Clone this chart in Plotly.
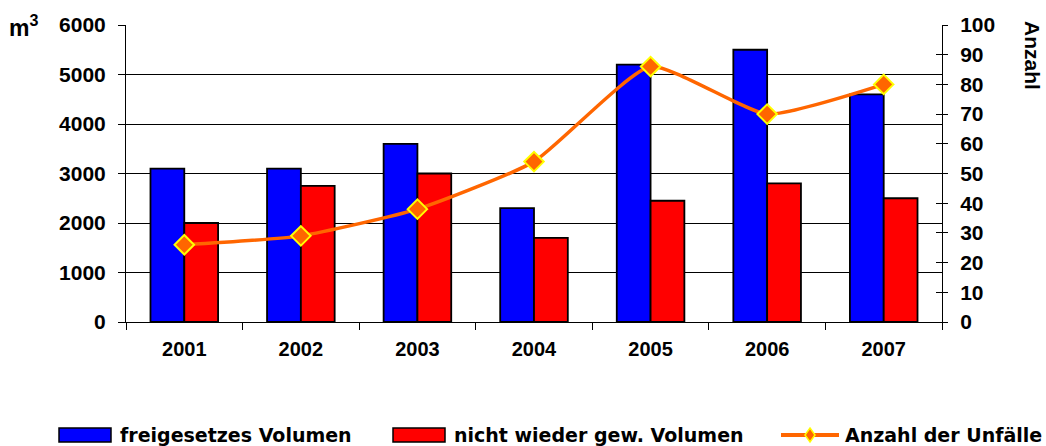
import plotly.graph_objects as go

# Daten
JAHRE = ["2001", "2002", "2003", "2004", "2005", "2006", "2007"]
FREIGESETZT = [3100, 3100, 3600, 2300, 5200, 5500, 4600]      # m3
NICHT_WIEDER = [2000, 2750, 3000, 1700, 2450, 2800, 2500]     # m3
UNFAELLE = [26, 29, 38, 54, 86, 70, 80]                       # Anzahl

LEGENDE = ["freigesetzes Volumen", "nicht wieder gew. Volumen", "Anzahl der Unfälle"]

BLAU = "#0000FF"
ROT = "#FF0000"
ORANGE = "#FF6600"
GELB = "#FFFF00"

W, H = 1046, 446
L, R, T, B = 126, 104, 25, 124
TICKFONT_Y = dict(family="Liberation Sans, Arial", size=21, color="black", weight="bold")
TICKFONT_X = dict(family="Liberation Sans, Arial", size=20, color="black", weight="bold")
LEGFONT = dict(family="DejaVu Sans", size=19, color="black", weight="bold")


def px(x):
    # Pixel -> paper-Koordinate
    return (x - L) / (W - L - R)


def py(y):
    return (H - B - y) / (H - T - B)


fig = go.Figure()

fig.add_trace(go.Bar(
    x=JAHRE, y=FREIGESETZT, name=LEGENDE[0],
    marker=dict(color=BLAU, line=dict(color="black", width=1.8)),
))
fig.add_trace(go.Bar(
    x=JAHRE, y=NICHT_WIEDER, name=LEGENDE[1],
    marker=dict(color=ROT, line=dict(color="black", width=1.8)),
))
fig.add_trace(go.Scatter(
    x=JAHRE, y=UNFAELLE, name=LEGENDE[2], yaxis="y2",
    mode="lines+markers",
    line=dict(color=ORANGE, width=3.5, shape="spline", smoothing=0.5),
    marker=dict(symbol="diamond", size=15, color=ORANGE, line=dict(color=GELB, width=2)),
))
# Hilfsspur fuer die inneren Ticks der rechten Achse
fig.add_trace(go.Scatter(x=[None], y=[None], yaxis="y3", showlegend=False))

# --- eigene Legende unten ---
shapes = [
    dict(type="rect", xref="paper", yref="paper", x0=px(59), x1=px(111), y0=py(428), y1=py(442),
         fillcolor=BLAU, line=dict(color="black", width=1.5)),
    dict(type="rect", xref="paper", yref="paper", x0=px(393), x1=px(445), y0=py(428), y1=py(442),
         fillcolor=ROT, line=dict(color="black", width=1.5)),
    dict(type="line", xref="paper", yref="paper", x0=px(781), x1=px(839), y0=py(435), y1=py(435),
         line=dict(color=ORANGE, width=4)),
    dict(type="path", xref="paper", yref="paper", xsizemode="pixel", ysizemode="pixel",
         xanchor=px(810), yanchor=py(435), path="M0,7 L5,0 L0,-7 L-5,0 Z",
         fillcolor=ORANGE, line=dict(color=GELB, width=1.5)),
]
annotations = []
for text, x in zip(LEGENDE, [118, 452, 843]):
    annotations.append(dict(
        text=text, xref="paper", yref="paper", x=px(x), y=py(435),
        xanchor="left", yanchor="middle", showarrow=False, font=LEGFONT,
    ))
annotations.append(dict(
    text="m<sup>3</sup>", xref="paper", yref="paper", x=px(7), y=py(43),
    xanchor="left", yanchor="bottom", showarrow=False,
    font=dict(family="Liberation Sans, Arial", size=23, color="black", weight="bold"),
))
annotations.append(dict(
    text="<b>Anzahl</b>", xref="paper", yref="paper", x=px(1033), y=py(55),
    xanchor="center", yanchor="middle", textangle=90, showarrow=False,
    font=dict(family="Liberation Sans, Arial", size=21, color="black"),
))

fig.update_layout(
    width=W, height=H,
    margin=dict(l=L, r=R, t=T, b=B),
    paper_bgcolor="white", plot_bgcolor="white",
    barmode="group", bargap=0.42, bargroupgap=0,
    showlegend=False,
    shapes=shapes, annotations=annotations,
    xaxis=dict(
        type="category", tickson="boundaries", ticks="outside", ticklen=7, tickcolor="black",
        showline=True, linecolor="black", linewidth=1, showgrid=False,
        tickfont=TICKFONT_X, ticklabelstandoff=9, automargin=False,
    ),
    yaxis=dict(
        range=[0, 6000], dtick=1000, ticks="outside", ticklen=7, tickcolor="black",
        showline=True, linecolor="black", linewidth=1,
        showgrid=True, gridcolor="black", gridwidth=1, zeroline=False,
        tickfont=TICKFONT_Y, ticklabelstandoff=8, automargin=False,
    ),
    yaxis2=dict(
        range=[0, 100], dtick=10, overlaying="y", side="right", anchor="x",
        ticks="outside", ticklen=5, tickcolor="black",
        showline=True, linecolor="black", linewidth=1, showgrid=False, zeroline=False,
        tickfont=TICKFONT_Y, ticklabelstandoff=8, automargin=False,
    ),
    yaxis3=dict(
        range=[0, 100], dtick=10, overlaying="y", side="right", anchor="x",
        ticks="inside", ticklen=6, tickcolor="black", showticklabels=False,
        showline=False, showgrid=False, zeroline=False,
    ),
)

# body-Rand entfernen, damit die Grafik genau im Fenster sitzt
fig.write_html(
    "out.html",
    config={"displayModeBar": False},
    post_script="document.body.style.margin='0px';",
)
